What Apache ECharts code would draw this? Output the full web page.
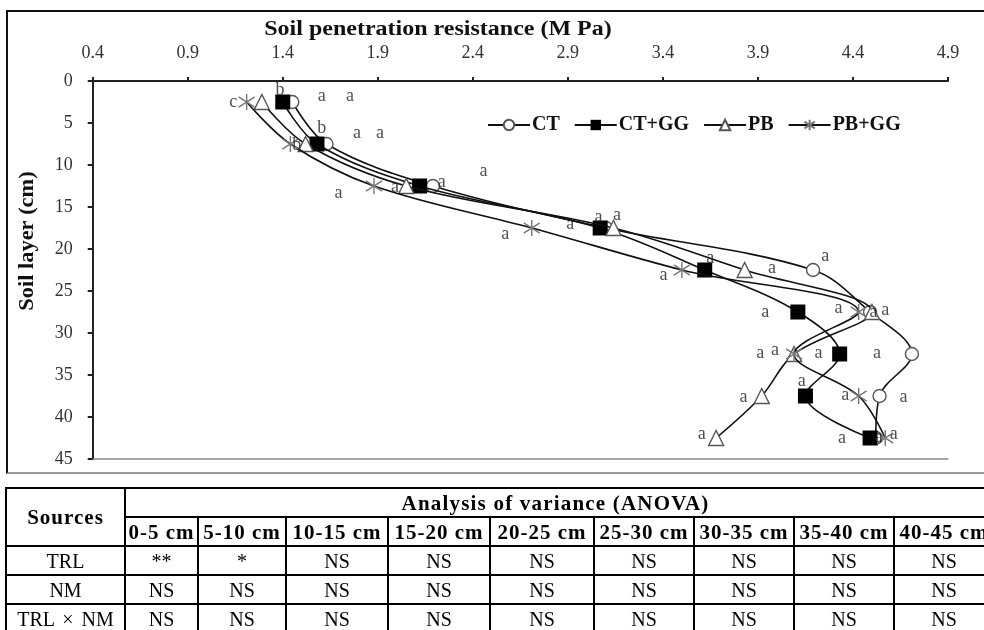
<!DOCTYPE html>
<html>
<head>
<meta charset="utf-8">
<script src="https://cdn.jsdelivr.net/npm/echarts@6/dist/echarts.min.js"></script>
<style>
  html, body { margin:0; padding:0; background:#fff; width:984px; height:630px; overflow:hidden; }
  #chart { position:absolute; left:0; top:0; width:984px; height:630px; }
  #frame { position:absolute; left:6px; top:10px; width:990px; height:460px;
           border-top:2px solid #111; border-left:2px solid #111; border-bottom:2px solid #9a9a9a; }
  #tbl { position:absolute; left:5px; top:487px; width:1100px; }
  table { border-collapse:collapse; table-layout:fixed; font-family:"Liberation Serif", "Times New Roman", serif; color:#000; }
  td, th { border:2px solid #000; padding:0; text-align:center; white-space:nowrap; overflow:hidden; }
  th { font-weight:bold; font-size:21px; letter-spacing:1px; height:27px; line-height:26px; }
  td { font-size:20px; height:27px; line-height:26px; }
</style>
</head>
<body>
<div id="chart"></div>
<div id="frame"></div>
<div id="tbl"></div>
<script>
// ---------------- data ----------------
const depths   = [2.5, 7.5, 12.5, 17.5, 22.5, 27.5, 32.5, 37.5, 42.5];
const ctVals   = [1.45, 1.63, 2.19, 3.10, 4.19, 4.49, 4.71, 4.54, 4.52];
const ctggVals = [1.40, 1.58, 2.12, 3.07, 3.62, 4.11, 4.33, 4.15, 4.49];
const pbVals   = [1.29, 1.52, 2.05, 3.14, 3.83, 4.50, 4.09, 3.92, 3.68];
const pbggVals = [1.21, 1.44, 1.88, 2.71, 3.50, 4.43, 4.09, 4.43, 4.57];
const seriesNames = ["CT", "CT+GG", "PB", "PB+GG"];
const xTicks = [0.4, 0.9, 1.4, 1.9, 2.4, 2.9, 3.4, 3.9, 4.4, 4.9];
const yTicks = [0, 5, 10, 15, 20, 25, 30, 35, 40, 45];

// significance letters (annotation text and its data position)
const letterText = ["c","b","a","a", "b","a","a","b", "a","a","a","a", "a","a","a","a",
                    "a","a","a","a", "a","a","a","a", "a","a","a","a", "a","a","a","a", "a","a","a","a"];
const letterX = [1.14,1.386,1.605,1.754, 1.605,1.79,1.912,1.474, 1.693,1.991,2.237,2.456,
                 2.57,2.913,3.061,3.158, 3.403,3.649,3.974,4.254, 3.938,4.324,4.508,4.57,
                 3.912,3.99,4.219,4.526, 3.824,4.131,4.36,4.666, 3.605,4.342,4.535,4.614];
const letterY = [2.5,1.07,1.87,1.87, 5.6,6.2,6.2,7.6, 13.4,12.7,12.0,10.8,
                 18.3,17.1,16.2,16.0, 23.1,21.1,22.3,20.9, 27.5,27.1,27.5,27.3,
                 32.4,32.1,32.4,32.4, 37.6,35.8,37.4,37.6, 42.1,42.5,42.4,42.1];

const xTitle = "Soil penetration resistance (M Pa)";
const yTitle = "Soil layer (cm)";

const tableRows = ["TRL", "NM", "TRL \u00d7 NM"];
const tableCols = ["0-5 cm","5-10 cm","10-15 cm","15-20 cm","20-25 cm","25-30 cm","30-35 cm","35-40 cm","40-45 cm"];
const tableVals = [
  ["**","*","NS","NS","NS","NS","NS","NS","NS"],
  ["NS","NS","NS","NS","NS","NS","NS","NS","NS"],
  ["NS","NS","NS","NS","NS","NS","NS","NS","NS"]
];

// ---------------- chart ----------------
const serif = '"Liberation Serif", "Times New Roman", serif';
const toPts = vals => vals.map((v, i) => [v, depths[i]]);
const starPath = 'path://M10,0 L10,20 M2.5,3.5 L17.5,16.5 M2.5,16.5 L17.5,3.5';
const markerStyles = [
  { symbol: 'circle', symbolSize: 13, itemStyle: { color: '#fff', borderColor: '#555', borderWidth: 1.4 } },
  { symbol: 'rect', symbolSize: 15, itemStyle: { color: '#000', borderColor: '#000', borderWidth: 0 } },
  { symbol: 'triangle', symbolSize: 15, itemStyle: { color: '#fff', borderColor: '#555', borderWidth: 1.4 } },
  { symbol: starPath, symbolSize: 16, itemStyle: { color: 'rgba(0,0,0,0)', borderColor: '#777', borderWidth: 1.4 } }
];
const allVals = [ctVals, ctggVals, pbVals, pbggVals];

const lineSeries = allVals.map((vals, k) => Object.assign({
  name: seriesNames[k],
  type: 'line',
  xAxisIndex: 0,
  yAxisIndex: 0,
  data: toPts(vals),
  smooth: 0.35,
  showSymbol: true,
  lineStyle: { color: '#111', width: 1.6 },
  z: 3 + k,
  animation: false
}, markerStyles[k]));

const letterSeries = {
  name: 'letters',
  type: 'scatter',
  xAxisIndex: 0,
  yAxisIndex: 0,
  symbolSize: 1,
  itemStyle: { color: 'rgba(0,0,0,0)' },
  data: letterText.map((t, i) => ({ value: [letterX[i], letterY[i]], name: t })),
  label: {
    show: true, position: 'inside', formatter: p => p.name,
    fontFamily: serif, fontSize: 18, color: '#222'
  },
  z: 10,
  silent: true,
  animation: false
};

const chart = echarts.init(document.getElementById('chart'), null, { renderer: 'canvas' });
chart.setOption({
  animation: false,
  backgroundColor: 'rgba(0,0,0,0)',
  grid: { left: 92.7, right: 36, top: 81, bottom: 171, containLabel: false },
  legend: {
    data: seriesNames,
    left: 482, top: 110,
    itemWidth: 42, itemHeight: 13, itemGap: 14,
    textStyle: { fontFamily: serif, fontWeight: 'bold', fontSize: 20, color: '#111', padding: [0, 0, 0, -3] }
  },
  xAxis: [{
    type: 'value', position: 'top', min: xTicks[0], max: xTicks[xTicks.length - 1], interval: 0.5,
    axisLine: { show: true, lineStyle: { color: '#222', width: 2 } },
    axisTick: { show: true, inside: false, length: 4, lineStyle: { color: '#222', width: 2 } },
    axisLabel: { fontFamily: serif, fontSize: 18, color: '#333', margin: 19, formatter: v => v.toFixed(1) },
    splitLine: { show: false }
  }, {
    type: 'value', position: 'bottom', min: xTicks[0], max: xTicks[xTicks.length - 1],
    axisLine: { show: true, onZero: false, lineStyle: { color: '#8a8a8a', width: 1.5 } },
    axisTick: { show: false }, axisLabel: { show: false }, splitLine: { show: false }
  }],
  yAxis: [{
    type: 'value', inverse: true, min: yTicks[0], max: yTicks[yTicks.length - 1], interval: 5,
    axisLine: { show: true, onZero: false, lineStyle: { color: '#222', width: 2 } },
    axisTick: { show: true, inside: false, length: 5, lineStyle: { color: '#222', width: 2 } },
    axisLabel: { fontFamily: serif, fontSize: 18, color: '#333', margin: 20 },
    splitLine: { show: false }
  }],
  graphic: [
    { type: 'text', x: 438, y: 30, scaleX: 1.2,
      style: { text: xTitle, font: 'bold 20px ' + serif, fill: '#111', align: 'center', verticalAlign: 'middle' } },
    { type: 'text', x: 28, y: 241, rotation: Math.PI / 2, scaleX: 1.12,
      style: { text: yTitle, font: 'bold 20px ' + serif, fill: '#111', align: 'center', verticalAlign: 'middle' } }
  ],
  series: lineSeries.concat([letterSeries])
});

// ---------------- table ----------------
const colW = [119, 73, 88, 102, 102, 104, 100, 100, 100, 100];
const tblW = colW.reduce((a, b) => a + b, 0);
let html = '<table style="width:' + tblW + 'px"><colgroup>' + colW.map(w => '<col style="width:' + w + 'px">').join('') + '</colgroup>';
html += '<tr><th rowspan="2">Sources</th><th colspan="9" style="letter-spacing:1.2px; text-indent:-8px">Analysis of variance (ANOVA)</th></tr>';
html += '<tr>' + tableCols.map(c => '<th>' + c + '</th>').join('') + '</tr>';
tableRows.forEach((r, i) => {
  html += '<tr><td style="word-spacing:3px">' + r + '</td>' + tableVals[i].map(v => '<td>' + v + '</td>').join('') + '</tr>';
});
html += '</table>';
document.getElementById('tbl').innerHTML = html;
</script>
</body>
</html>
